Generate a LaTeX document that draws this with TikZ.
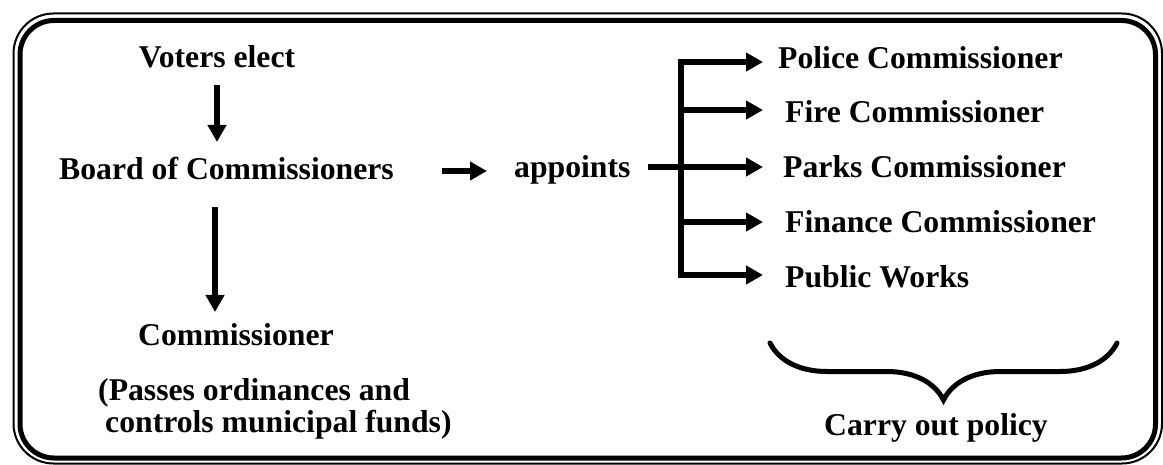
\documentclass[tikz,border=0pt]{standalone}
\usepackage{fontspec}
\setmainfont{Liberation Serif}
\usetikzlibrary{positioning,calc,arrows.meta,decorations.pathreplacing}

\begin{document}
\begin{tikzpicture}[>={Triangle[width=18pt,length=17pt]}, txt/.style={font=\bfseries\fontsize{31.7pt}{32pt}\selectfont, inner sep=0pt}, arr/.style={->, line width=6.5pt}, bar/.style={line width=6.5pt}]
	\useasboundingbox (0.0pt, 0.0pt) rectangle (1163.0pt, -465.0pt);
	% double frame
	\draw[line width=2pt, rounded corners=40pt] (13.5pt, -13.5pt) rectangle (1162.0pt, -463.5pt);
	\draw[line width=5pt, rounded corners=34pt] (20.0pt, -20.5pt) rectangle (1155.5pt, -458.0pt);
	% left column
	\draw (217.0pt, -68.0pt)node[txt, anchor=base](voters){Voters elect};
	\draw (394.0pt, -180.0pt)node[txt, anchor=base east](board){Board of Commissioners};
	\draw (138.0pt, -345.0pt)node[txt, anchor=base west](comm){Commissioner};
	\draw (98.0pt, -400.0pt)node[txt, anchor=base west](passes){(Passes ordinances and};
	\draw (105.0pt, -432.0pt)node[txt, anchor=base west](funds){controls municipal funds)};
	\draw[arr] ($(voters.base)+(0pt,-17pt)$) -- ($(voters.base |- board.base)+(0pt,38pt)$);
	\draw[arr] ($(comm.base west |- board.base)+(77pt,-27pt)$) -- ($(comm.base west)+(77pt,33pt)$);
	% appoints
	\draw (514.0pt, -178.0pt)node[txt, anchor=base west](appoints){appoints};
	\draw[arr] ($(board.base east)+(48pt,9pt)$) -- ($(appoints.base west)+(-27pt,7pt)$);
	% right column
	\draw (778.0pt, -69.0pt)node[txt, anchor=base west](police){Police Commissioner};
	\draw (785.0pt, -123.0pt)node[txt, anchor=base west](fire){Fire Commissioner};
	\draw (783.0pt, -178.0pt)node[txt, anchor=base west](parks){Parks Commissioner};
	\draw (785.0pt, -233.0pt)node[txt, anchor=base west](finance){Finance Commissioner};
	\draw (785.0pt, -288.0pt)node[txt, anchor=base west](public){Public Works};
	\coordinate (fork) at (681.0pt, -167.0pt);
	\coordinate (tipx) at (763.0pt, -167.0pt);
	\draw[bar] ($(appoints.base east)+(17pt,11pt)$) -- (fork);
	\draw[bar, line cap=rect] ($(fork |- police.base)+(0pt,7pt)$) -- ($(fork |- public.base)+(0pt,13pt)$);
	\foreach \n/\dy in {police/7,fire/13,parks/11,finance/11,public/13}
		\draw[arr] ($(fork |- \n.base)+(0pt,\dy pt)$) -- ($(tipx |- \n.base)+(0pt,\dy pt)$);
	% brace
	\coordinate (bl) at (770.0pt, -343.0pt);
	\coordinate (br) at (1117.0pt, -343.0pt);
	\draw[line width=5pt, line cap=round, decorate, decoration={brace, mirror, amplitude=57pt}] (bl) -- (br);
	\draw (936.0pt, -435.0pt)node[txt, anchor=base](carry){Carry out policy};
\end{tikzpicture}
\end{document}
